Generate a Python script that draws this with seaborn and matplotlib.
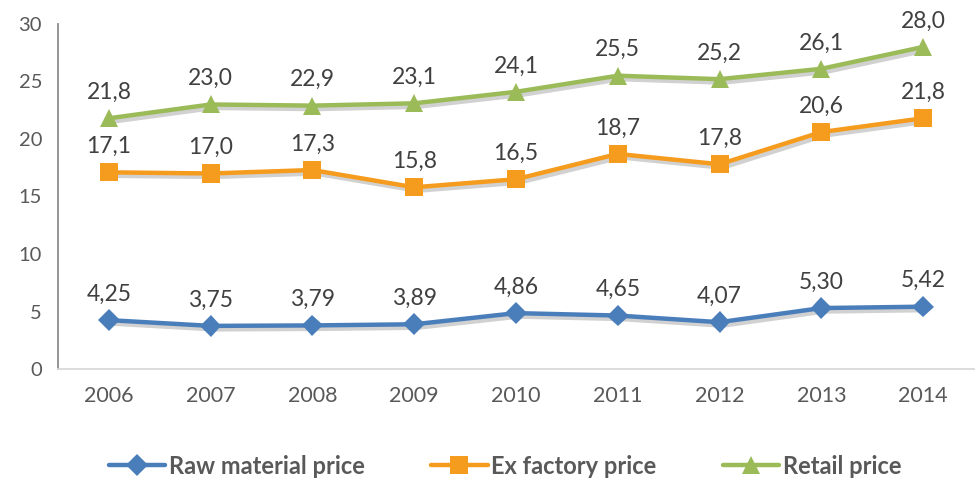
import matplotlib.pyplot as plt
import matplotlib.patheffects as pe
import numpy as np
import pandas as pd
import seaborn as sns

years = ['2006', '2007', '2008', '2009', '2010', '2011', '2012', '2013', '2014']
raw_price = [4.25, 3.75, 3.79, 3.89, 4.86, 4.65, 4.07, 5.30, 5.42]
ex_factory = [17.1, 17.0, 17.3, 15.8, 16.5, 18.7, 17.8, 20.6, 21.8]
retail = [21.8, 23.0, 22.9, 23.1, 24.1, 25.5, 25.2, 26.1, 28.0]

sns.set_style('white')
plt.rcParams['font.family'] = ['Lato', 'DejaVu Sans']

series = [
    ('Raw material price', raw_price, '#4A7EBB', 'D', 11, 2),
    ('Ex factory price', ex_factory, '#F59B1E', 's', 13, 1),
    ('Retail price', retail, '#9BBB59', '^', 13, 1),
]

fig = plt.figure(figsize=(9.75, 4.79), dpi=100)
ax = fig.add_axes([0.0595, 0.2296, 0.9395, 0.7204])

# soft drop shadow like the excel original
shadow = [pe.SimpleLineShadow(offset=(2, -2.5), alpha=0.18, shadow_color='black'),
          pe.Normal()]

for name, vals, col, mk, ms, dec in series:
    df = pd.DataFrame({'year': years, 'value': vals})
    sns.lineplot(data=df, x='year', y='value', ax=ax, color=col, marker=mk,
                 markersize=ms, markeredgewidth=0, linewidth=3.2, label=name,
                 path_effects=shadow, legend=False)
    for i, v in enumerate(vals):
        txt = f'{v:.{dec}f}'.replace('.', ',')
        ax.annotate(txt, (i, v), xytext=(0, 14), textcoords='offset points',
                    ha='center', va='baseline', fontsize=16.5, color='#404040')

ax.set_xlim(-0.5, 8.5)
ax.set_ylim(0, 30)
ax.set_yticks(np.arange(0, 31, 5))
ax.set_xlabel('')
ax.set_ylabel('')

for s in ['top', 'right']:
    ax.spines[s].set_visible(False)
ax.spines['left'].set_color('#8C8C8C')
ax.spines['left'].set_linewidth(1.3)
ax.spines['bottom'].set_color('#D9D9D9')
ax.spines['bottom'].set_linewidth(1.3)

ax.tick_params(axis='y', direction='inout', length=11, width=1.3, color='#8C8C8C',
               labelsize=14.5, labelcolor='#595959', pad=6)
ax.set_xticks(np.arange(len(years)))
ax.set_xticklabels(years)
ax.tick_params(axis='x', length=0, labelsize=15.5, labelcolor='#595959', pad=12)
ax.set_xticks(np.arange(-0.5, len(years)), minor=True)
ax.tick_params(axis='x', which='minor', direction='out', length=6, width=1.3, color='#D9D9D9')

handles, labels = ax.get_legend_handles_labels()
leg = fig.legend(handles, labels, loc='center', bbox_to_anchor=(505 / 975, 1 - 466 / 479),
                 ncol=3, frameon=False, handlelength=2.4, handletextpad=0.15, columnspacing=2.8,
                 prop={'weight': 'bold', 'size': 17}, labelcolor='#595959')
for line in leg.get_lines():
    line.set_path_effects([])

fig.savefig('out.png', dpi=100)
